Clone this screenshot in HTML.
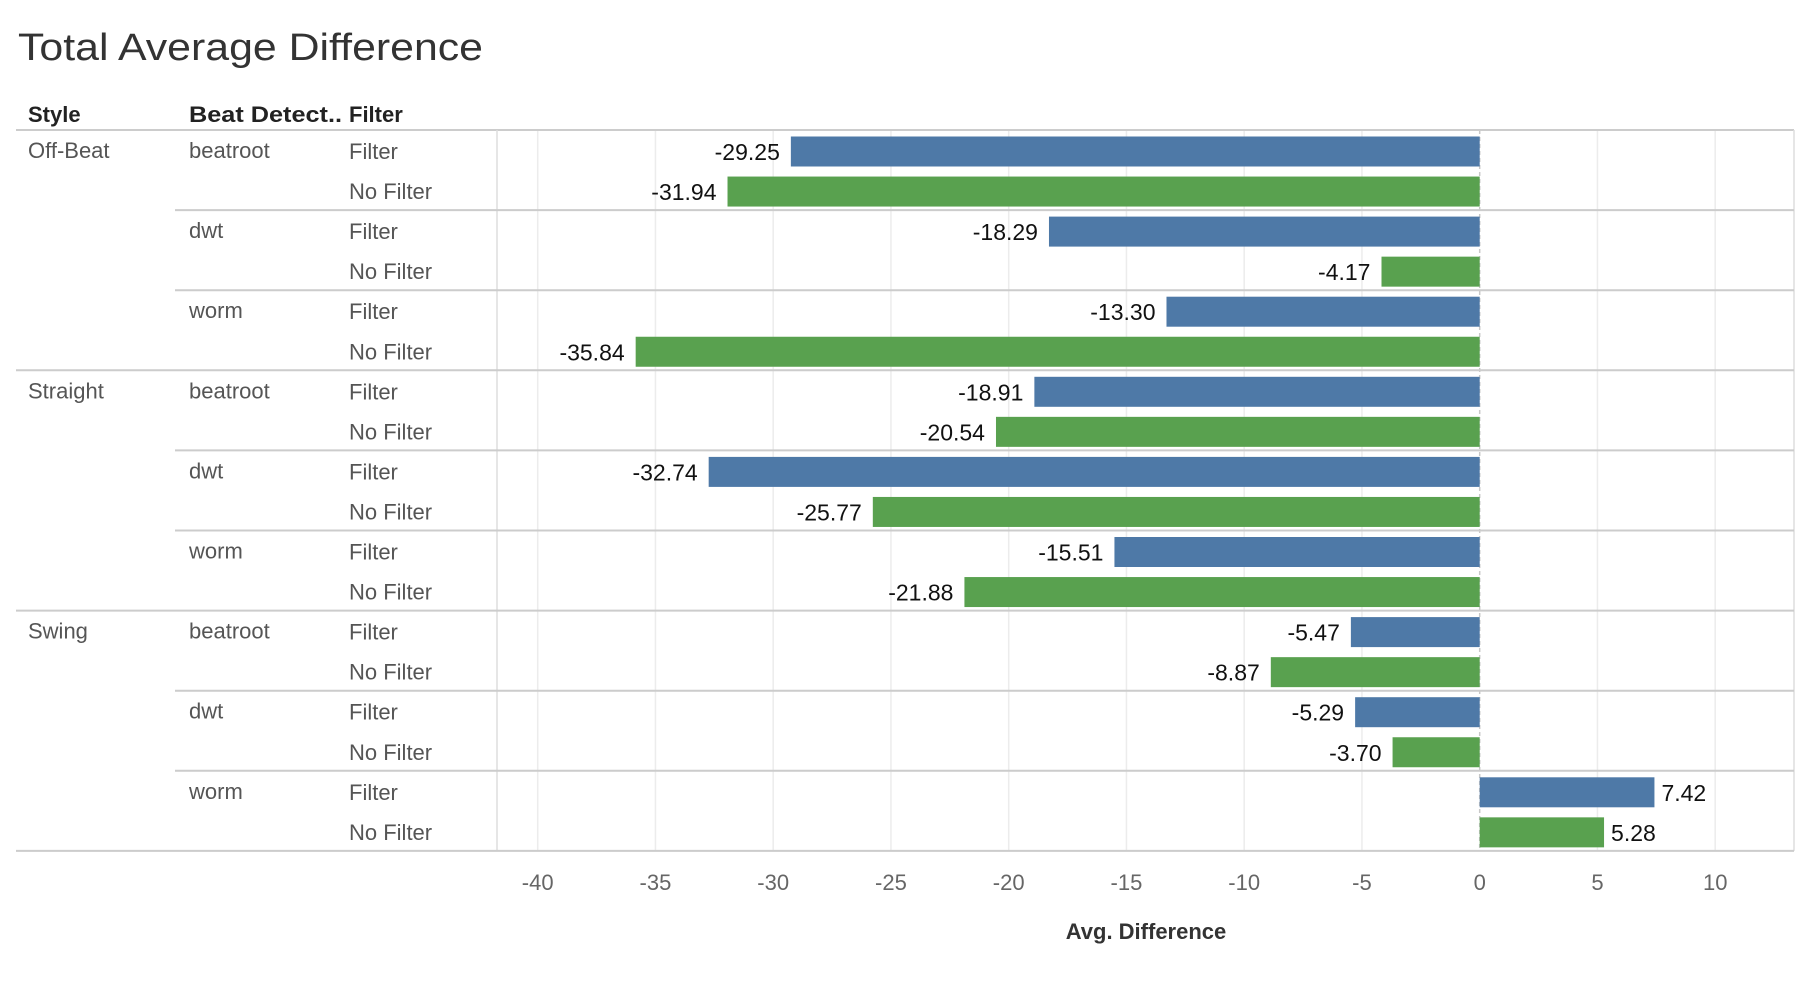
<!DOCTYPE html>
<html><head><meta charset="utf-8">
<style>
body{margin:0;background:#fff;}
svg{display:block;font-family:"Liberation Sans",sans-serif;}
</style></head>
<body>
<svg id="chart" width="1806" height="986" viewBox="0 0 1806 986" xmlns="http://www.w3.org/2000/svg">
<text x="18" y="60" font-size="38" fill="#333" textLength="465" lengthAdjust="spacingAndGlyphs">Total Average Difference</text>
<text x="28" y="122" font-size="22" font-weight="bold" fill="#222">Style</text>
<text x="189" y="122" font-size="22" font-weight="bold" fill="#222" textLength="153" lengthAdjust="spacingAndGlyphs">Beat Detect..</text>
<text x="349" y="122" font-size="22" font-weight="bold" fill="#222">Filter</text>
<g id="grid"></g>
<g id="rows"></g>
<g id="bars"></g>
<g id="axis"></g>
<text x="1146" y="939" font-size="22" font-weight="bold" fill="#333" text-anchor="middle">Avg. Difference</text>
</svg>
<script>
const styles = ["Off-Beat","Straight","Swing"];
const detectors = ["beatroot","dwt","worm"];
const filters = ["Filter","No Filter"];
const filterValues = [-29.25,-18.29,-13.30,-18.91,-32.74,-15.51,-5.47,-5.29,7.42];
const noFilterValues = [-31.94,-4.17,-35.84,-20.54,-25.77,-21.88,-8.87,-3.70,5.28];
const ticks = [-40,-35,-30,-25,-20,-15,-10,-5,0,5,10];

const NS="http://www.w3.org/2000/svg";
const x0=1479.7, unit=23.55, topY=130, rowH=40.05;
const paneL=497, paneR=1794;
function xs(v){return x0+v*unit;}
function mk(tag,attrs,parent,txt){const e=document.createElementNS(NS,tag);for(const k in attrs)e.setAttribute(k,attrs[k]);if(txt!==undefined)e.textContent=txt;parent.appendChild(e);return e;}
const grid=document.getElementById('grid'),rows=document.getElementById('rows'),bars=document.getElementById('bars'),axis=document.getElementById('axis');
const bottomY=topY+rowH*18;
ticks.forEach(t=>{
  const g=mk('line',{x1:xs(t),x2:xs(t),y1:topY,y2:bottomY,stroke:t===0?'#c8c8c8':'#ececec','stroke-width':1.5,'stroke-dasharray':t===0?'4,3':'none'},grid);
  
  
  const l=mk('text',{x:xs(t),y:890,'font-size':22,fill:'#666','text-anchor':'middle'},axis,String(t));
  
  
});
let ln=mk('line',{x1:16,x2:paneR,y1:topY,y2:topY,stroke:'#ccc','stroke-width':2},rows);


ln=mk('line',{x1:paneL,x2:paneL,y1:topY,y2:bottomY,stroke:'#ddd','stroke-width':1.5},rows);


ln=mk('line',{x1:paneR,x2:paneR,y1:topY,y2:bottomY,stroke:'#ddd','stroke-width':1.5},rows);


styles.forEach((s,si)=>{
  const sy=topY+si*rowH*6;
  const st=mk('text',{x:28,y:sy+28,'font-size':22,fill:'#555'},rows,s);
  
  
  detectors.forEach((d,di)=>{
    const i=si*3+di;
    const py=sy+di*rowH*2;
    const sep=mk('line',{x1:di===2?16:175,x2:paneR,y1:py+rowH*2,y2:py+rowH*2,stroke:'#ccc','stroke-width':2},rows);
    
    
    const dt=mk('text',{x:189,y:py+28,'font-size':22,fill:'#555'},rows,d);
    
    
    [filterValues[i],noFilterValues[i]].forEach((v,fi)=>{
      const ry=py+fi*rowH;
      const ft=mk('text',{x:349,y:ry+29,'font-size':22,fill:'#555'},rows,filters[fi]);
      
      
      const a=xs(Math.min(0,v)),b=xs(Math.max(0,v));
      const r=mk('rect',{x:a,y:ry+6.5,width:b-a,height:30,fill:fi===0?'#4e79a7':'#59a14f'},bars);
      
      
      const lbl=mk('text',{x:v<0?a-11:b+7,y:ry+30,'font-size':23,fill:'#111','text-anchor':v<0?'end':'start'},bars,v.toFixed(2));
      
      
    });
  });
});
</script>
</body></html>
